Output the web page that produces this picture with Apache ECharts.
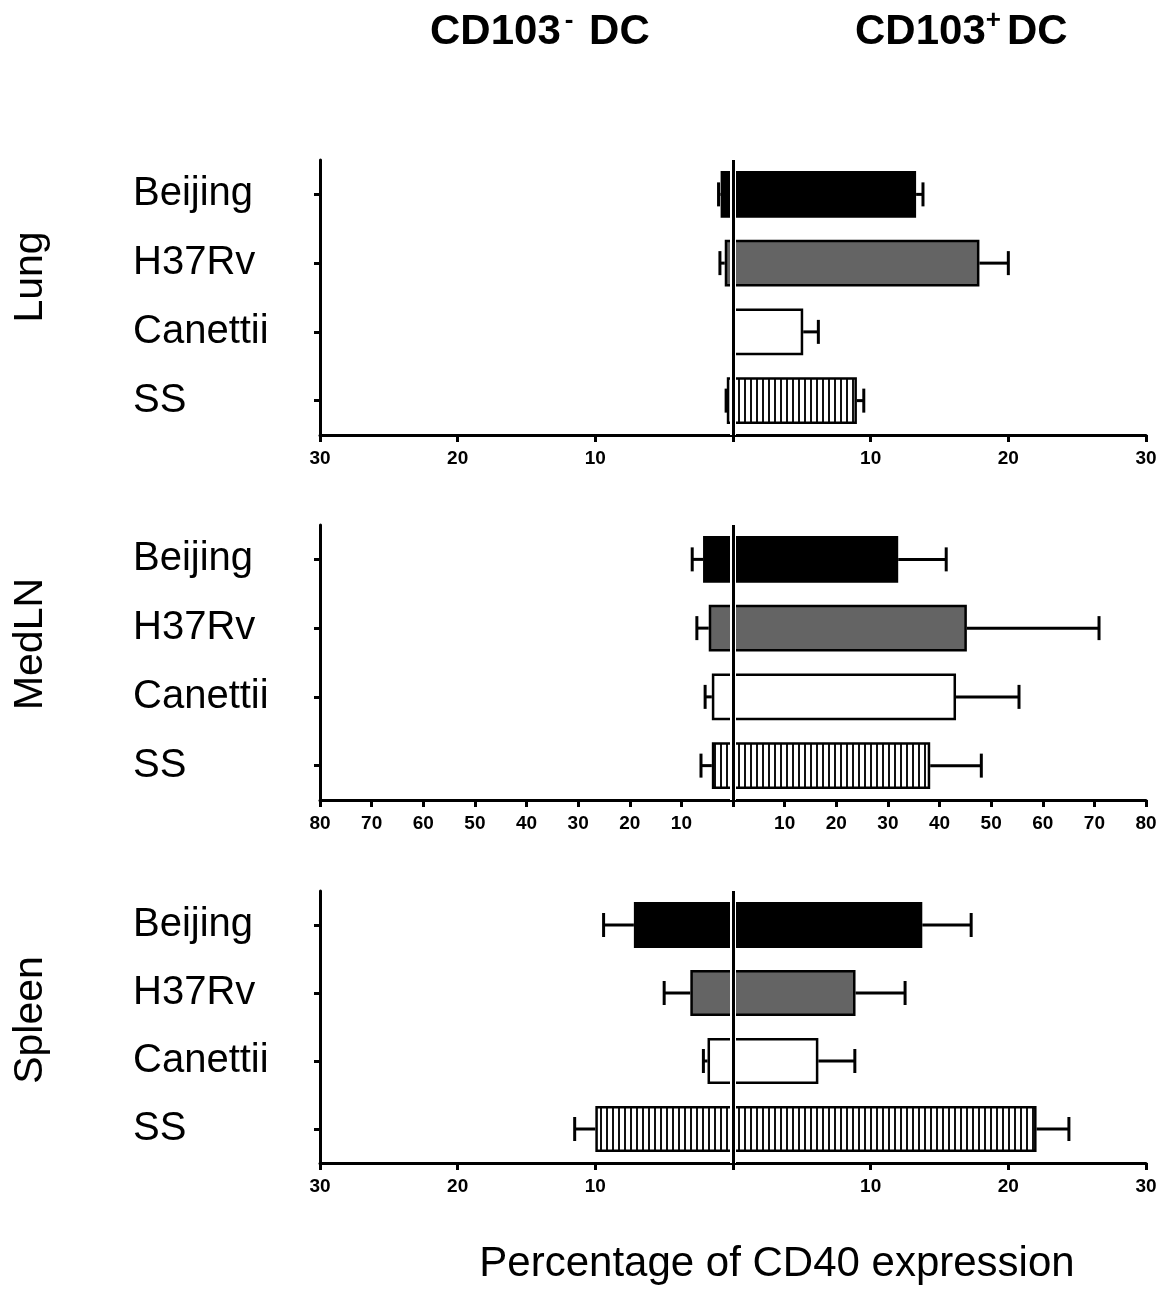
<!DOCTYPE html>
<html>
<head>
<meta charset="utf-8">
<script src="https://cdn.jsdelivr.net/npm/echarts@6/dist/echarts.min.js"></script>
<style>
html,body{margin:0;padding:0;background:#fff;}
#chart{width:1168px;height:1290px;}
</style>
</head>
<body>
<div id="chart"></div>
<script>
// ---------------- data ----------------
const categories = ['Beijing', 'H37Rv', 'Canettii', 'SS'];
const panelNames = ['Lung', 'MedLN', 'Spleen'];
const axisMax = [30, 80, 30];
const tickStep = 10;

// CD103- DC (left side, shown as negative), mean and mean+SEM
const lungNeg      = [0.9, 0.6, 0, 0.45];
const lungNegErr   = [1.05, 0.95, 0, 0.5];
const lungPos      = [13.3, 17.9, 5.1, 9.0];
const lungPosErr   = [13.8, 20.0, 6.2, 9.5];

const medNeg       = [5.8, 4.7, 4.1, 4.1];
const medNegErr    = [7.9, 7.0, 5.4, 6.2];
const medPos       = [32.0, 45.3, 43.2, 38.2];
const medPosErr    = [41.3, 70.9, 55.4, 48.1];

const spleenNeg    = [7.2, 3.1, 1.85, 10.0];
const spleenNegErr = [9.4, 5.0, 2.15, 11.5];
const spleenPos    = [13.75, 8.9, 6.2, 22.05];
const spleenPosErr = [17.3, 12.5, 8.85, 24.4];

const titleLeft = 'CD103';
const titleRight = 'CD103';
const xTitle = 'Percentage of CD40 expression';

// ---------------- styling ----------------
const FONT = "'Liberation Sans', Arial, Helvetica, sans-serif";
const gridTops = [160, 525, 891];
const gridHeights = [275, 275, 272];
const labelCenters = [277, 644, 1020];

function makeHatch() {
  const c = document.createElement('canvas');
  c.width = 6; c.height = 6;
  const ctx = c.getContext('2d');
  ctx.fillStyle = '#ffffff';
  ctx.fillRect(0, 0, 6, 6);
  ctx.fillStyle = '#111111';
  ctx.fillRect(0, 0, 2, 6);
  return c;
}
const hatch = { image: makeHatch(), repeat: 'repeat' };
const fills = ['#000000', '#646464', '#ffffff', hatch];

function renderErr(params, api) {
  const c = api.value(0), b = api.value(1), e = api.value(2);
  if (Math.abs(e) <= Math.abs(b)) return null;
  const p1 = api.coord([b, c]);
  const p2 = api.coord([e, c]);
  return {
    type: 'group',
    children: [
      { type: 'line', shape: { x1: p1[0], y1: p1[1], x2: p2[0], y2: p2[1] }, style: { stroke: '#000', lineWidth: 3 } },
      { type: 'line', shape: { x1: p2[0], y1: p2[1] - 12, x2: p2[0], y2: p2[1] + 12 }, style: { stroke: '#000', lineWidth: 3 } }
    ]
  };
}

const panels = [
  [lungNeg, lungNegErr, lungPos, lungPosErr],
  [medNeg, medNegErr, medPos, medPosErr],
  [spleenNeg, spleenNegErr, spleenPos, spleenPosErr]
];

const grids = [], xAxes = [], yAxes = [], series = [];
panels.forEach(function (p, i) {
  const neg = p[0], negErr = p[1], pos = p[2], posErr = p[3];
  grids.push({ left: 320, width: 826, top: gridTops[i], height: gridHeights[i], containLabel: false });
  xAxes.push({
    type: 'value', gridIndex: i, min: -axisMax[i], max: axisMax[i], interval: tickStep,
    axisLine: { show: true, onZero: false, lineStyle: { color: '#000', width: 3 } },
    axisTick: { show: true, length: 7, lineStyle: { color: '#000', width: 3 } },
    splitLine: { show: false },
    axisLabel: {
      margin: 14, color: '#000', fontSize: 19, fontWeight: 'bold', fontFamily: FONT,
      formatter: function (v) { return v === 0 ? '' : String(Math.abs(v)); }
    }
  });
  yAxes.push({
    type: 'category', gridIndex: i, data: categories, inverse: true,
    axisLine: { show: true, onZero: false, lineStyle: { color: '#000', width: 3 } },
    axisTick: { show: true, alignWithLabel: true, length: 6, lineStyle: { color: '#000', width: 3 } },
    axisLabel: { align: 'left', margin: 187, fontSize: 40, color: '#000', fontFamily: FONT },
    splitLine: { show: false }
  });
  series.push({
    type: 'bar', xAxisIndex: i, yAxisIndex: i, barWidth: '68%', barGap: '-100%',
    data: neg.map(function (v, k) { return { value: -v, itemStyle: { color: fills[k] } }; }),
    itemStyle: { borderColor: '#000', borderWidth: 2.5 },
    markLine: {
      silent: true, symbol: ['none', 'none'], label: { show: false }, z: 5,
      lineStyle: { color: '#fff', width: 6, type: 'solid' },
      data: [{ xAxis: 0 }]
    }
  });
  series.push({
    type: 'bar', xAxisIndex: i, yAxisIndex: i, barWidth: '68%', barGap: '-100%',
    data: pos.map(function (v, k) { return { value: v, itemStyle: { color: fills[k] } }; }),
    itemStyle: { borderColor: '#000', borderWidth: 2.5 },
    markLine: {
      silent: true, symbol: ['none', 'none'], label: { show: false }, z: 6,
      lineStyle: { color: '#000', width: 3, type: 'solid' },
      data: [{ xAxis: 0 }]
    }
  });
  series.push({
    type: 'custom', xAxisIndex: i, yAxisIndex: i, renderItem: renderErr,
    encode: { x: [1, 2], y: 0 }, z: 3,
    data: neg.map(function (v, k) { return [k, -v, -negErr[k]]; })
  });
  series.push({
    type: 'custom', xAxisIndex: i, yAxisIndex: i, renderItem: renderErr,
    encode: { x: [1, 2], y: 0 }, z: 3,
    data: pos.map(function (v, k) { return [k, v, posErr[k]]; })
  });
});

const graphics = [
  {
    type: 'text', x: 430, y: 32,
    style: {
      text: '{a|' + titleLeft + '}{s|-}{a| DC}', verticalAlign: 'middle', align: 'left',
      rich: {
        a: { fontSize: 42, fontWeight: 'bold', fontFamily: FONT, fill: '#000', lineHeight: 48 },
        s: { fontSize: 26, fontWeight: 'bold', fontFamily: FONT, fill: '#000', lineHeight: 48, verticalAlign: 'top', padding: [0, 4, 22, 4] }
      }
    }
  },
  {
    type: 'text', x: 855, y: 32,
    style: {
      text: '{a|' + titleRight + '}{s|+}{a|DC}', verticalAlign: 'middle', align: 'left',
      rich: {
        a: { fontSize: 42, fontWeight: 'bold', fontFamily: FONT, fill: '#000', lineHeight: 48 },
        s: { fontSize: 26, fontWeight: 'bold', fontFamily: FONT, fill: '#000', lineHeight: 48, verticalAlign: 'top', padding: [0, 6, 22, 0] }
      }
    }
  },
  {
    type: 'text', x: 777, y: 1264,
    style: { text: xTitle, align: 'center', verticalAlign: 'middle', fontSize: 42, fontFamily: FONT, fill: '#000' }
  }
];
panelNames.forEach(function (name, i) {
  graphics.push({
    type: 'text', x: 31, y: labelCenters[i], rotation: Math.PI / 2,
    style: { text: name, align: 'center', verticalAlign: 'middle', fontSize: 41, fontFamily: FONT, fill: '#000' }
  });
});

const chart = echarts.init(document.getElementById('chart'), null, { renderer: 'canvas' });
chart.setOption({
  backgroundColor: '#ffffff',
  animation: false,
  grid: grids,
  xAxis: xAxes,
  yAxis: yAxes,
  series: series,
  graphic: graphics
});
</script>
</body>
</html>
